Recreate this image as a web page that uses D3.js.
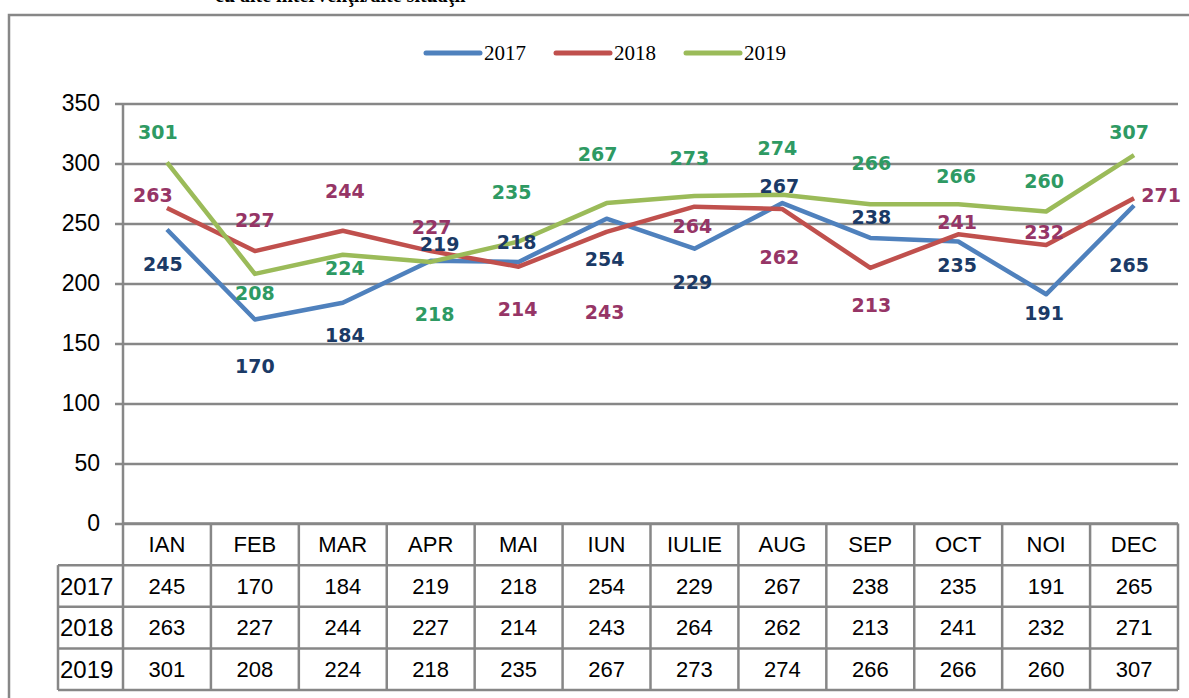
<!DOCTYPE html>
<html>
<head>
<meta charset="utf-8">
<script src="https://cdn.jsdelivr.net/npm/d3@7"></script>
<style>
  body { margin: 0; background: #fff; }
  svg { display: block; }
</style>
</head>
<body>
<svg id="chart" width="1189" height="698"></svg>
<script>
// data
const months = ['IAN', 'FEB', 'MAR', 'APR', 'MAI', 'IUN', 'IULIE', 'AUG', 'SEP', 'OCT', 'NOI', 'DEC'];
const years = ['2017', '2018', '2019'];
const values2017 = [245, 170, 184, 219, 218, 254, 229, 267, 238, 235, 191, 265];
const values2018 = [263, 227, 244, 227, 214, 243, 264, 262, 213, 241, 232, 271];
const values2019 = [301, 208, 224, 218, 235, 267, 273, 274, 266, 266, 260, 307];
const yTicks = [0, 50, 100, 150, 200, 250, 300, 350];
const titleText = 'cu alte intervenţii/alte situaţii';

// where each data label sits relative to its point (px), as placed in the original
const labelOffsets2017 = [[-4, 35], [0, 47], [2, 32], [9, -17], [-2, -20], [-2, 40], [-2, 33], [-3, -17], [1, -21], [-1, 24], [-2, 19], [-5, 60]];
const labelOffsets2018 = [[-14, -13], [0, -31], [2, -40], [1, -24], [-1, 42], [-2, 80], [-2, 19], [-3, 48], [1, 37], [-1, -12], [-2, -13], [27, -3]];
const labelOffsets2019 = [[-9, -30], [0, 19], [2, 13], [4, 52], [-7, -49], [-9, -49], [-5, -38], [-5, -47], [1, -41], [-2, -28], [-2, -30], [-5, -23]];

const series = [
  { name: '2017', values: values2017, offsets: labelOffsets2017, line: '#4F81BD', label: '#1B3A66' },
  { name: '2018', values: values2018, offsets: labelOffsets2018, line: '#C0504D', label: '#963566' },
  { name: '2019', values: values2019, offsets: labelOffsets2019, line: '#9BBB59', label: '#2E9A63' }
];

const gridColor = '#878787';
const svg = d3.select('#chart');

const plot = { left: 123, right: 1178, top: 103.5, bottom: 523.5 };
const tableLeft = 58, tableBottom = 690;

const x = d3.scaleBand().domain(months).range([plot.left, plot.right]);
const y = d3.scaleLinear().domain([0, 350]).range([plot.bottom, plot.top]);
const row = d3.scaleBand().domain(['head'].concat(years)).range([plot.bottom, tableBottom]);

// cut-off title at the very top
svg.append('text')
  .attr('x', 215).attr('y', 2)
  .attr('font-family', 'Liberation Serif').attr('font-weight', 'bold')
  .attr('font-size', 20)
  .text(titleText);

// outer frame (only top and left show in the crop)
svg.append('path')
  .attr('d', 'M9,698 V15 H1189')
  .attr('fill', 'none').attr('stroke', gridColor).attr('stroke-width', 2.5);

// legend
const legend = svg.append('g').attr('transform', 'translate(426,53)');
const item = legend.selectAll('g').data(series).join('g')
  .attr('transform', (d, i) => `translate(${i * 130},0)`);
item.append('line')
  .attr('x1', 0).attr('x2', 54)
  .attr('stroke', d => d.line).attr('stroke-width', 5).attr('stroke-linecap', 'round');
item.append('text')
  .attr('x', 58).attr('dy', '0.35em')
  .attr('font-family', 'Liberation Serif').attr('font-size', 21)
  .text(d => d.name);

// gridlines + y axis
const yAxis = d3.axisLeft(y).tickValues(yTicks).tickSize(8).tickPadding(15);
const gGrid = svg.append('g')
  .attr('transform', `translate(${plot.left},0)`)
  .call(d3.axisLeft(y).tickValues(yTicks).tickSize(-(plot.right - plot.left)).tickFormat(''));
gGrid.select('.domain').remove();
gGrid.selectAll('line').attr('stroke', gridColor).attr('stroke-width', 2.5);

const gY = svg.append('g')
  .attr('transform', `translate(${plot.left},0)`)
  .call(yAxis);
gY.select('.domain').attr('d', `M0,${plot.top}V${plot.bottom}`).attr('stroke', gridColor).attr('stroke-width', 2.5);
gY.selectAll('line').attr('stroke', gridColor).attr('stroke-width', 2.5);
gY.selectAll('text')
  .attr('font-family', 'Liberation Sans').attr('font-size', 23).attr('fill', '#000');

// lines
const lineGen = d3.line()
  .x((d, i) => x(months[i]) + x.bandwidth() / 2)
  .y(d => y(d));

svg.append('g').selectAll('path').data(series).join('path')
  .attr('d', d => lineGen(d.values))
  .attr('fill', 'none')
  .attr('stroke', d => d.line)
  .attr('stroke-width', 4.5)
  .attr('stroke-linejoin', 'round');

// data labels
series.forEach(s => {
  svg.append('g').selectAll('text').data(s.values).join('text')
    .attr('x', (d, i) => x(months[i]) + x.bandwidth() / 2 + s.offsets[i][0])
    .attr('y', (d, i) => y(d) + s.offsets[i][1])
    .attr('dy', '0.36em')
    .attr('text-anchor', 'middle')
    .attr('font-family', 'DejaVu Sans').attr('font-weight', 'bold').attr('font-size', 19)
    .attr('fill', s.label)
    .text(d => d);
});

// data table under the axis
const table = svg.append('g')
  .attr('font-family', 'Liberation Sans').attr('font-size', 22).attr('fill', '#000');

const rowTop = row(years[0]);
const hLines = [rowTop].concat(years.map(yr => row(yr) + row.bandwidth()));
table.selectAll('line.h').data(hLines).join('line')
  .attr('class', 'h')
  .attr('x1', tableLeft).attr('x2', plot.right)
  .attr('y1', d => d).attr('y2', d => d);
table.append('line')
  .attr('x1', plot.left).attr('x2', plot.right)
  .attr('y1', plot.bottom).attr('y2', plot.bottom);
const vLines = months.map(m => x(m)).concat([plot.right]);
table.selectAll('line.v').data(vLines).join('line')
  .attr('class', 'v')
  .attr('x1', d => d).attr('x2', d => d)
  .attr('y1', plot.bottom).attr('y2', tableBottom);
table.append('line')
  .attr('x1', tableLeft).attr('x2', tableLeft)
  .attr('y1', rowTop).attr('y2', tableBottom);
table.selectAll('line').attr('stroke', gridColor).attr('stroke-width', 2.5);

table.selectAll('text.head').data(months).join('text')
  .attr('class', 'head')
  .attr('x', d => x(d) + x.bandwidth() / 2)
  .attr('y', row('head') + row.bandwidth() / 2)
  .attr('dy', '0.36em').attr('text-anchor', 'middle')
  .text(d => d);

series.forEach(s => {
  const cy = row(s.name) + row.bandwidth() / 2;
  table.append('text')
    .attr('x', tableLeft + 2).attr('y', cy).attr('dy', '0.36em')
    .attr('font-size', 24)
    .text(s.name);
  table.append('g').selectAll('text').data(s.values).join('text')
    .attr('x', (d, i) => x(months[i]) + x.bandwidth() / 2)
    .attr('y', cy).attr('dy', '0.36em').attr('text-anchor', 'middle')
    .text(d => d);
});
</script>
</body>
</html>
